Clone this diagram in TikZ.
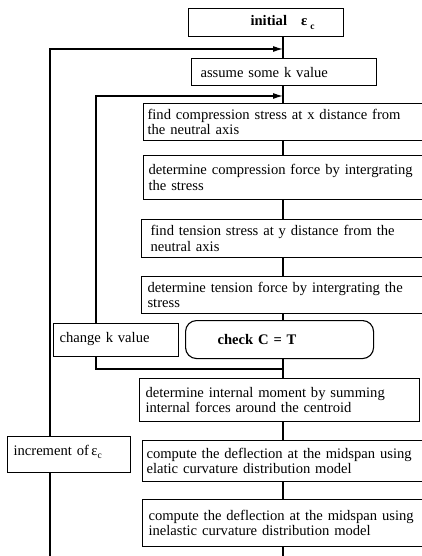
\documentclass[tikz,border=0pt]{standalone}
\usepackage{fontspec}
\setmainfont{Liberation Serif}
\usetikzlibrary{arrows.meta}

\tikzset{
  stepbox/.style={draw, line width=1.1pt, anchor=north west, align=left, inner xsep=4pt, inner ysep=0pt,
    font=\fontsize{14.6}{15.5}\selectfont},
  testbox/.style={stepbox, rounded corners=11pt},
  flow/.style={line width=1.1pt}
}

\begin{document}
\begin{tikzpicture}[x=1pt, y=-1pt, >={Latex[length=10pt,width=6pt]}]
      \newcommand\WIDE{290pt}
      \newcommand\SUBC{\raisebox{-0.5ex}{\fontsize{9.5}{9.5}\selectfont c}}

      \useasboundingbox (0,0) rectangle (422,556);
      \clip (0,0) rectangle (422,556);

      \coordinate (spine) at (283,0);
      \coordinate (in1) at (283,49);
      \coordinate (in2) at (283,96);
      \coordinate (ret) at (283,369);
      \coordinate (lp1) at (50,0);
      \coordinate (lp2) at (96,0);
      \coordinate (foot) at (0,562);

      \node[stepbox, text width=147pt, minimum height=28pt] (init) at (188,8) {\hspace*{58pt}\textbf{initial\hspace{14pt}ε\hspace{3pt}\SUBC}};
      \node[stepbox, text width=177pt, minimum height=27pt] (assume) at (191,58) {\hspace*{5pt}assume some k value};
      \node[stepbox, text width=\WIDE, minimum height=37pt] (comp) at (143,103) {find compression stress at x distance from\\the neutral axis};
      \node[stepbox, text width=\WIDE, minimum height=44pt] (cforce) at (143,155) {\hspace*{1pt}determine compression force by intergrating\\\hspace*{1pt}the stress};
      \node[stepbox, text width=\WIDE, minimum height=38pt] (tstress) at (141,219) {\hspace*{5pt}find tension stress at y distance from the\\\hspace*{5pt}neutral axis};
      \node[stepbox, text width=\WIDE, minimum height=37pt] (tforce) at (141,276) {\hspace*{2pt}determine tension force by intergrating the\\\hspace*{2pt}stress};
      \node[stepbox, text width=117pt, minimum height=33pt, text depth=6pt] (chgk) at (53,323) {\hspace*{2pt}change k value};
      \node[testbox, text width=180pt, minimum height=38pt] (check) at (185,320) {\hspace*{28pt}\textbf{check C = T}};
      \node[stepbox, text width=272pt, minimum height=43pt] (moment) at (139,378) {\hspace*{2pt}determine internal moment by summing\\\hspace*{2pt}internal forces around the centroid};
      \node[stepbox, text width=\WIDE, minimum height=41pt] (elastic) at (142,440) {compute the deflection at the midspan using\\elatic curvature distribution model};
      \node[stepbox, text width=\WIDE, minimum height=47pt] (inel) at (142,499) {\hspace*{2pt}compute the deflection at the midspan using\\\hspace*{2pt}inelastic curvature distribution model};
      \node[stepbox, text width=115pt, minimum height=36pt, text depth=9pt] (incr) at (7,436) {\hspace*{2pt}increment of\,ε\SUBC};

      \draw[flow] (init.south -| spine) -- (assume.north -| spine);
      \draw[flow] (assume.south -| spine) -- (comp.north -| spine);
      \draw[flow] (comp.south -| spine) -- (cforce.north -| spine);
      \draw[flow] (cforce.south -| spine) -- (tstress.north -| spine);
      \draw[flow] (tstress.south -| spine) -- (tforce.north -| spine);
      \draw[flow] (tforce.south -| spine) -- (check.north -| spine);
      \draw[flow] (check.south -| spine) -- (moment.north -| spine);
      \draw[flow] (moment.south -| spine) -- (elastic.north -| spine);
      \draw[flow] (elastic.south -| spine) -- (inel.north -| spine);
      \draw[flow] (inel.south -| spine) -- (foot -| spine);

      \draw[flow] (ret) -| (chgk.south -| lp2);
      \draw[flow, ->] (chgk.north -| lp2) |- (in2);
      \draw[flow] (incr.south -| lp1) -- (foot -| lp1);
      \draw[flow, ->] (incr.north -| lp1) |- (in1);

    \end{tikzpicture}
\end{document}
